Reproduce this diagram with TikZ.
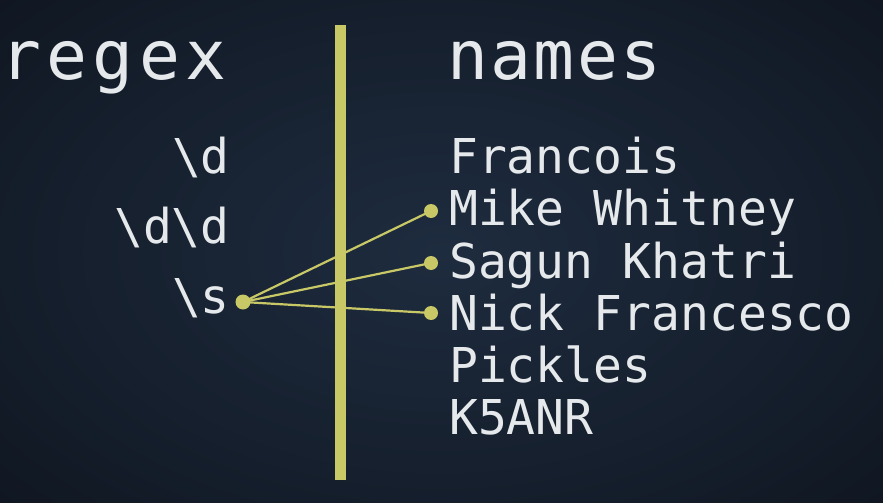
\documentclass[tikz,border=0pt]{standalone}
\usepackage{fontspec}
\setmonofont{DejaVu Sans Mono}
\usepackage{xcolor}
\definecolor{board}{RGB}{30,44,63}
\definecolor{boardedge}{RGB}{16,23,34}
\definecolor{focus}{RGB}{200,200,102}
\definecolor{chalk}{RGB}{230,233,235}
\usetikzlibrary{positioning}
\usetikzlibrary{calc}

\tikzset{
	head/.style={text=chalk, inner sep=0pt, font=\ttfamily\addfontfeature{LetterSpace=#1}\fontsize{68}{68}\selectfont},
	head/.default=3.5,
	item/.style={text=chalk, inner sep=0pt, font=\ttfamily\fontsize{48}{48}\selectfont},
	hit/.style={draw=focus, line width=2.2pt},
	pin/.style={fill=focus}
}

\begin{document}
\begin{tikzpicture}[x=1pt,y=-1pt]
		%background
		\useasboundingbox (0,0) rectangle (883,503);
		\shade[inner color=board, outer color=boardedge] (-160,-120) rectangle (1040,623);
		
		%draw vertical line
		\fill[focus] (335,25) rectangle (346,480);
		
		%headings
		\node[head=8, anchor=base west] (regex) at (0,80) {regex};
		\node[head, anchor=base west] (names) at (447,80) {names};
		
		%patterns
		\node[item, anchor=base east] (pd) at (230,173) {\textbackslash d};
		\node[item, anchor=base east] (pdd) at (230,243) {\textbackslash d\textbackslash d};
		\node[item, anchor=base east] (ps) at (230,313) {\textbackslash s};
		
		%names
		\foreach \n/\y/\t in {francois/173/Francois, mike/225/Mike Whitney, sagun/278/Sagun Khatri, nick/330/Nick Francesco, pickles/382/Pickles, kfive/434/K5ANR}
		\node[item, anchor=base west] (\n) at (449,\y) {\t};
		
		%draw matches
		\coordinate (src) at (243,302);
		\foreach \n/\y in {mike/211, sagun/263, nick/313}
		{
		\coordinate (dst-\n) at (431,\y);
		\draw[hit] (src) -- (dst-\n);
		\fill[pin] (dst-\n) circle (7pt);
		}
		\fill[pin] (src) circle (7.5pt);
\end{tikzpicture}
\end{document}
